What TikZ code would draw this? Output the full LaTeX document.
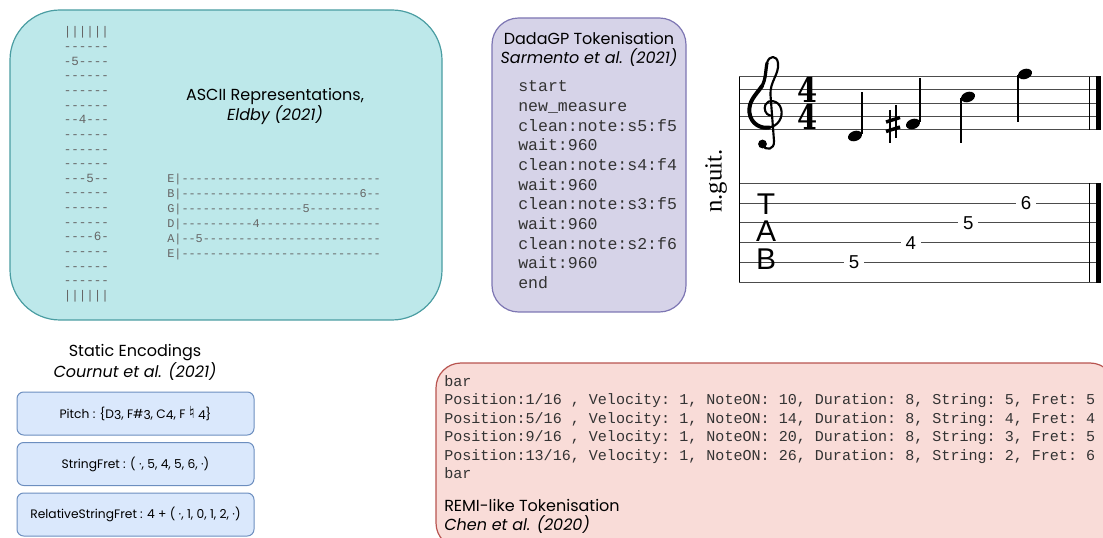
\documentclass[tikz,border=0pt]{standalone}
\usepackage{fontspec}
\newfontfamily\pop{Poppins}
\newfontfamily\mono[Ligatures=TeXOff]{Liberation Mono}
\newfontfamily\lserif{Liberation Serif}
\newfontfamily\lsans{Liberation Sans}
\newfontfamily\djv{DejaVu Sans}
\newfontfamily\djs{DejaVu Serif}
\ExplSyntaxOn
\NewDocumentCommand\dsh{m}{\prg_replicate:nn{#1}{-}}
\ExplSyntaxOff
\definecolor{tealfill}{HTML}{BDE8EA}
\definecolor{tealline}{HTML}{4A9DA2}
\definecolor{purpfill}{HTML}{D6D3E8}
\definecolor{purpline}{HTML}{7D76B3}
\definecolor{pinkfill}{HTML}{F9DCD8}
\definecolor{pinkline}{HTML}{B85450}
\definecolor{bluefill}{HTML}{DAE8FC}
\definecolor{blueline}{HTML}{6C8EBF}
\definecolor{asciigrey}{HTML}{666666}
\definecolor{codegrey}{HTML}{333333}
\newcommand\lo[1]{\raisebox{-0.22ex}{#1}}
\begin{document}
\begin{tikzpicture}[x=0.75pt,y=-0.75pt,
  ttl/.style={font=\pop\fontsize{12}{14.25}\selectfont, align=center, inner sep=0pt},
  ascv/.style={font=\mono\frenchspacing\fontsize{9.4}{9.4}\selectfont, text=asciigrey, anchor=base west, inner sep=0pt},
  asch/.style={font=\mono\frenchspacing\fontsize{8.9}{8.9}\selectfont, text=asciigrey, anchor=base west, inner sep=0pt},
  dgcode/.style={font=\mono\frenchspacing\fontsize{12.4}{12.4}\selectfont, text=codegrey, anchor=base west, inner sep=0pt},
  remicode/.style={font=\mono\frenchspacing\fontsize{11.3}{11.3}\selectfont, text=codegrey, anchor=base west, inner sep=0pt},
  bluebox/.style={draw=blueline, fill=bluefill, line width=0.75pt, rounded corners=5pt, minimum width=177.75pt, minimum height=32.25pt, font=\pop\fontsize{9.2}{9.2}\selectfont, inner sep=0pt},
  stline/.style={draw=black!70, line width=0.75pt},
  tabnum/.style={fill=white, font=\lsans\fontsize{14}{14}\selectfont, inner xsep=3.5pt, inner ysep=1pt},
  tabletter/.style={font=\lsans\fontsize{22.5}{22.5}\selectfont, inner sep=0pt},
  tsig/.style={inner sep=0pt, align=center, font=\djs\bfseries\fontsize{25.5}{20}\selectfont},
  clef/.style={line width=1.6pt, line cap=round, line join=round},
]
\useasboundingbox (0,0) rectangle (1103,538);
\clip (0,0) rectangle (1103,538);

% ---------- ASCII box ----------
\node (asciibox) [draw=tealline, fill=tealfill, line width=0.9pt, rounded corners=37.5pt,
  minimum width=324pt, minimum height=232.5pt, inner sep=0pt] at (226,165) {};
\node (asciititle) [ttl] at (275,106.5) {ASCII Representations,\\\textit{Eldby (2021)}};
\foreach \t [count=\i] in {||||||, \dsh{6}, -5\dsh{4}, \dsh{6}, \dsh{6}, \dsh{6}, \dsh{2}4\dsh{3},
  \dsh{6}, \dsh{6}, \dsh{6}, \dsh{3}5\dsh{2}, \dsh{6}, \dsh{6}, \dsh{6}, \dsh{4}6-,
  \dsh{6}, \dsh{6}, \dsh{6}, ||||||}
  \node[ascv] (va\i) at (63.5,{36+14.63*(\i-1)}) {\t};
\foreach \t [count=\i] in {E|\dsh{28}, B|\dsh{25}6\dsh{2}, G|\dsh{17}5\dsh{10},
  D|\dsh{10}4\dsh{17}, A|\dsh{2}5\dsh{25}, E|\dsh{28}}
  \node[asch] (ha\i) at (167,{182.5+15*(\i-1)}) {\t};

% ---------- DadaGP box ----------
\node (dadabox) [draw=purpline, fill=purpfill, line width=0.9pt, rounded corners=20pt,
  minimum width=145.5pt, minimum height=220.5pt, inner sep=0pt] at (589,165) {};
\node (dadatitle) [ttl] at (589,49.5) {DadaGP Tokenisation\\\textit{Sarmento et al. (2021)}};
\foreach \t [count=\i] in {start, new\_measure, clean:note:s5:f5, wait:960, clean:note:s4:f4,
  wait:960, clean:note:s3:f5, wait:960, clean:note:s2:f6, wait:960, end}
  \node[dgcode] (dg\i) at (518,{91.8+19.67*(\i-1)}) {\t};

% ---------- Static encodings ----------
\node (stattitle) [ttl] at (135,362.5) {Static Encodings\\\textit{Cournut et al. (2021)}};
\node (pitch) [bluebox] at (135.5,413.5) {Pitch : \{D\lo{3}, F\#\lo{3}, C\lo{4}, F {\djv\fontsize{12.5}{12.5}\selectfont ♮} \lo{4}\}};
\node (strfret) [bluebox] at (135.5,464) {StringFret : ( ·, 5, 4, 5, 6, ·)};
\node (relfret) [bluebox] at (135.5,514.5) {RelativeStringFret : 4 + ( ·, 1, 0, 1, 2, ·)};

% ---------- REMI box ----------
\node (remibox) [draw=pinkline, fill=pinkfill, line width=0.9pt, rounded corners=18.75pt,
  minimum width=509.25pt, minimum height=138.75pt, inner sep=0pt] at (775.5,455.5) {};
\foreach \t [count=\i] in {bar,
  {Position:1/16 , Velocity: 1, NoteON: 10, Duration: 8, String: 5, Fret: 5},
  {Position:5/16 , Velocity: 1, NoteON: 14, Duration: 8, String: 4, Fret: 4},
  {Position:9/16 , Velocity: 1, NoteON: 20, Duration: 8, String: 3, Fret: 5},
  {Position:13/16, Velocity: 1, NoteON: 26, Duration: 8, String: 2, Fret: 6},
  bar}
  \node[remicode] (rm\i) at (444,{386+18.5*(\i-1)}) {\t};
\node (remititle) [ttl, align=left, anchor=west] at (444,516.5) {REMI-like Tokenisation\\\textit{Chen et al. (2020)}};

% ---------- Score ----------
\foreach \y in {76.7,90,103.3,116.7,130}
  \draw[stline] (739,\y) -- (1098,\y);
\foreach \y in {183.3,203.1,222.9,242.7,262.5,282.3}
  \draw[stline] (739,\y) -- (1098,\y);
\draw[line width=0.9pt] (739.3,76.7) -- (739.3,282.3);
\draw[line width=1.1pt] (1089.5,76.7) -- (1089.5,130);
\draw[line width=1.1pt] (1089.5,183.3) -- (1089.5,282.3);
\draw[line width=3.9pt] (1098.5,76.3) -- (1098.5,130.4);
\draw[line width=3.9pt] (1098.5,182.9) -- (1098.5,282.7);

\node (instr) [rotate=90, inner sep=0pt, font=\lserif\fontsize{18.5}{18.5}\selectfont] at (716,181) {n.guit.};

% treble clef
\draw[clef] (762,145) .. controls (766,151) and (774.5,150) .. (774,141) -- (770.5,95)
  .. controls (769.5,82) and (779.5,74) .. (778,63)
  .. controls (777,55) and (769,55) .. (767,63)
  .. controls (765.5,70) and (766,79) .. (762,86)
  .. controls (756,95) and (748,101) .. (749.5,113)
  .. controls (751,124) and (761,129) .. (769,127.5)
  .. controls (778.5,126) and (783.5,117) .. (781,108.5)
  .. controls (778.5,100) and (768,99) .. (765.5,104.5)
  .. controls (763.5,109) and (765.5,114.5) .. (770,115.5);
\draw[line width=3pt, line cap=round] (762,86) .. controls (756,95) and (748,101) .. (749.5,113)
  .. controls (751,124) and (761,129) .. (769,127.5);
\draw[line width=2.4pt, line cap=round] (767,63) .. controls (765.5,70) and (766,79) .. (762,86);
\fill (762.5,144) circle [radius=4.4];

% time signature
\node (tsig) [tsig] at (808,103.3) {\scalebox{0.85}[1]{4}\\\scalebox{0.85}[1]{4}};

% notes
\fill[rotate around={20:(855,136)}] (855,136) ellipse [x radius=7.2, y radius=5];
\draw[line width=1.1pt] (861.8,134.5) -- (861.8,92);
\fill[rotate around={20:(913,124)}] (913,124) ellipse [x radius=7.2, y radius=5];
\draw[line width=1.1pt] (919.8,122.5) -- (919.8,78);
\fill[rotate around={20:(968,97)}] (968,97) ellipse [x radius=7.2, y radius=5];
\draw[line width=1.1pt] (961.2,98.5) -- (961.2,143);
\fill[rotate around={20:(1025,74)}] (1025,74) ellipse [x radius=7.2, y radius=5];
\draw[line width=1.1pt] (1018.2,75.5) -- (1018.2,122);
% sharp
\draw[line width=1pt] (890,110) -- (890,143);
\draw[line width=1pt] (896,105) -- (896,138);
\draw[line width=2.6pt] (886,122) -- (900,117.5);
\draw[line width=2.6pt] (886,131.5) -- (900,127);

% TAB
\node (tabT) [tabletter] at (766,204) {T};
\node (tabA) [tabletter] at (766,231.5) {A};
\node (tabB) [tabletter] at (766,259.5) {B};
\node (f1) [tabnum] at (854,262.5) {5};
\node (f2) [tabnum] at (910.7,242.7) {4};
\node (f3) [tabnum] at (968.3,222.9) {5};
\node (f4) [tabnum] at (1026,203.1) {6};
\end{tikzpicture}
\end{document}
